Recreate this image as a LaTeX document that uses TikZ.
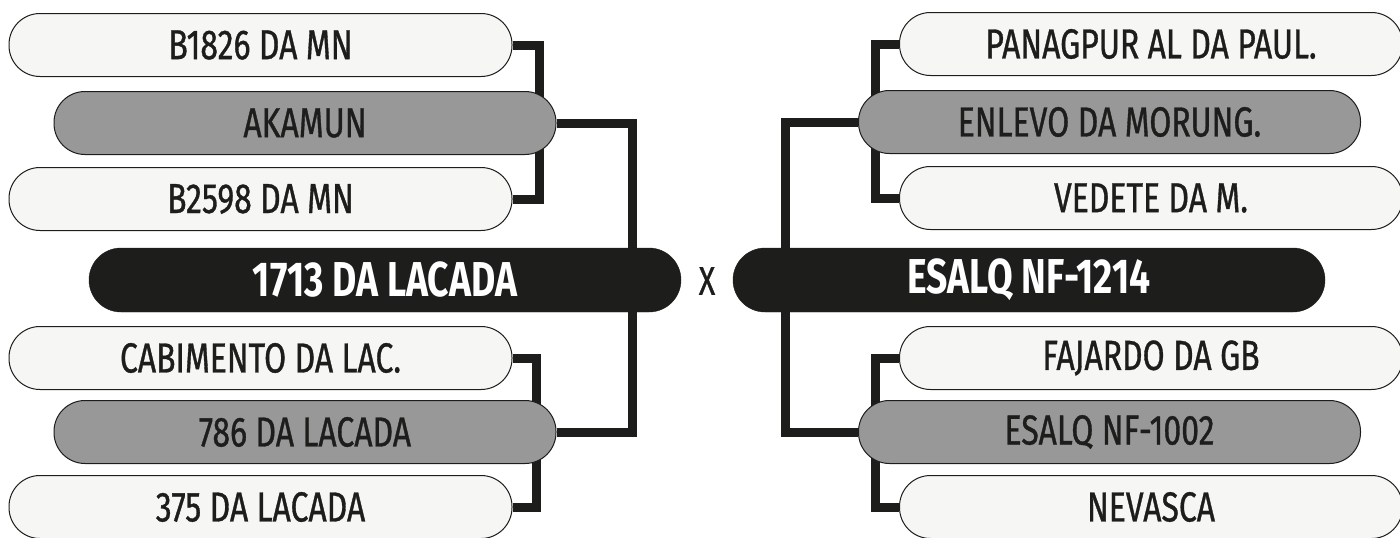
\documentclass[tikz,border=0pt]{standalone}
\usepackage{fontspec}
\setmainfont{Fira Sans}[FakeStretch=0.76]
\newfontfamily\pillfont{Fira Sans}[FakeStretch=0.76, FakeBold=0.8]
\definecolor{ink}{HTML}{1D1D1B}
\definecolor{paper}{HTML}{F6F6F4}
\definecolor{mid}{HTML}{989898}
\tikzset{
  pill/.style={draw=ink, line width=1pt, rounded corners=31pt, minimum height=63pt, inner sep=0pt, text=ink, font=\pillfont\fontsize{42}{42}\selectfont},
  lightpill/.style={pill, fill=paper, minimum width=503pt},
  midpill/.style={pill, fill=mid, minimum width=502pt},
  darkpill/.style={draw=ink, fill=ink, rounded corners=32pt, minimum height=64pt, minimum width=592pt, inner sep=0pt, text=white, font=\fontsize{49}{49}\selectfont\bfseries},
  conn/.style={draw=ink, line width=9pt, line cap=butt, line join=miter}
}
\begin{document}
\begin{tikzpicture}[x=1pt,y=-1pt]
\useasboundingbox (0,0) rectangle (1400,538);
% connector columns
\coordinate (colL) at (632,0);
\coordinate (colR) at (785,0);
% outer (light) boxes
\node[lightpill] (b1826) at (260.5,45) {B1826 DA MN};
\node[lightpill] (b2598) at (260.5,199) {B2598 DA MN};
\node[lightpill] (cab) at (260.5,358) {CABIMENTO DA LAC.};
\node[lightpill] (n375) at (260.5,507) {375 DA LACADA};
\node[lightpill] (panag) at (1151,44) {PANAGPUR AL DA PAUL.};
\node[lightpill] (vedete) at (1151,198) {VEDETE DA M.};
\node[lightpill] (fajardo) at (1151,358) {FAJARDO DA GB};
\node[lightpill] (nevasca) at (1151,507) {NEVASCA};
% grandparent connectors
\draw[conn] (b1826.east) -- ++(27,0) |- (b2598.east);
\draw[conn] (cab.east) -- ++(24,0) |- (n375.east);
\draw[conn] (panag.west) -- ++(-24,0) |- (vedete.west);
\draw[conn] (fajardo.west) -- ++(-24,0) |- (nevasca.west);
% parent boxes
\node[midpill] (akamun) at (305,123) {AKAMUN};
\node[midpill] (n786) at (305,432) {786 DA LACADA};
\node[midpill] (enlevo) at (1109.5,122) {ENLEVO DA MORUNG.};
\node[midpill] (nf1002) at (1109.5,432) {ESALQ NF-1002};
% parent connectors
\draw[conn] (akamun.east) -- (colL |- akamun.east) |- (n786.east);
\draw[conn] (enlevo.west) -- (colR |- enlevo.west) |- (nf1002.west);
% animals
\node[darkpill] (lacada) at (385,280) {1713 DA LACADA};
\node[darkpill] (esalq) at (1029,280) {ESALQ NF-1214};
\node[text=ink, font=\pillfont\fontsize{40}{40}\selectfont, inner sep=0pt] (cross) at (707,281) {X};
\end{tikzpicture}
\end{document}
